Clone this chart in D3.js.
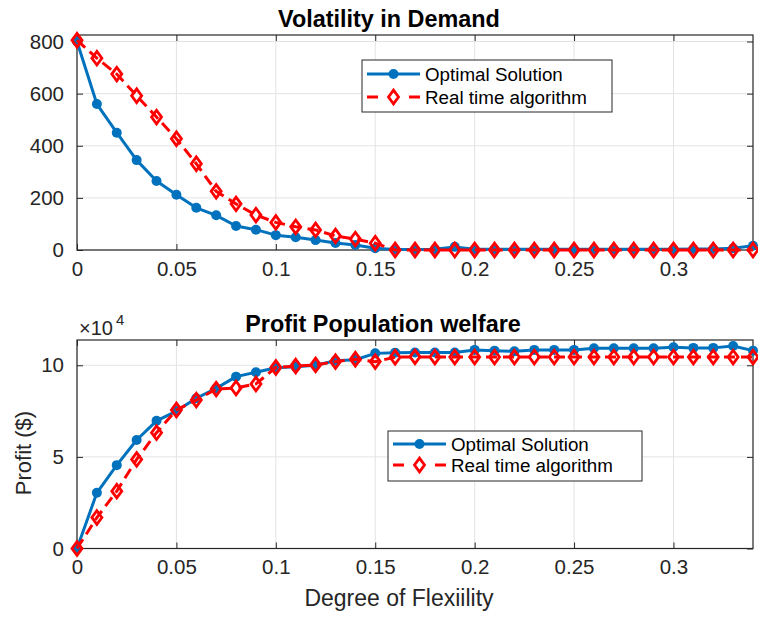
<!DOCTYPE html>
<html>
<head>
<meta charset="utf-8">
<script src="https://cdn.jsdelivr.net/npm/d3@7"></script>
<style>
  html, body { margin: 0; padding: 0; background: #fff; }
  svg { display: block; font-family: "Liberation Sans", Arial, Helvetica, sans-serif; }
</style>
</head>
<body>
<svg id="chart" width="758" height="617"></svg>
<script>
// ---------------- data ----------------
const flexibility = [0,0.01,0.02,0.03,0.04,0.05,0.06,0.07,0.08,0.09,0.10,0.11,0.12,0.13,0.14,0.15,0.16,0.17,0.18,0.19,0.20,0.21,0.22,0.23,0.24,0.25,0.26,0.27,0.28,0.29,0.30,0.31,0.32,0.33,0.34];

const volatilityOptimal = [800,560,450,345,265,212,162,133,92,78,57,49,38,27,19,7,2,2,3,12,3,3,3,3,3,3,3,3,3,3,3,4,4,7,16];
const volatilityRealTime = [805,736,675,592,510,427,331,225,177,134,106,89,77,54,42,26,0,0,0,0,0,0,0,0,0,0,0,0,0,0,0,0,0,0,0];

const profitOptimal = [0,30400,45500,59200,69700,75000,82000,87400,93800,96200,98700,99200,100000,102500,103000,106500,106900,107000,107000,107000,108400,108000,107600,108400,108400,108400,109300,109300,109300,109300,109800,109500,109500,110500,108000];
const profitRealTime = [0,16900,31300,48600,63200,75600,81000,87000,87600,89800,98800,99600,100200,102000,103300,102000,104400,104600,104500,104500,104500,104500,104500,104500,104500,104500,104500,104500,104500,104500,104500,104500,104500,104500,104500];

const xTicks = [0,0.05,0.1,0.15,0.2,0.25,0.3];
const volatilityTicks = [0,200,400,600,800];
const profitTicks = [0,50000,100000];

const seriesNames = ["Optimal Solution", "Real time algorithm"];
const titles = ["Volatility in Demand", "Profit Population welfare"];
const xLabel = "Degree of Flexiility";
const yLabelBottom = "Profit ($)";

// ---------------- style ----------------
const BLUE = "#0072BD", RED = "#FF0000", AXIS = "#262626", GRID = "#e3e3e3";
const svg = d3.select("#chart");

function diamondPath(cx, cy) {
  const w = 5, h = 6.8;
  return `M${cx},${cy-h}L${cx+w},${cy}L${cx},${cy+h}L${cx-w},${cy}Z`;
}

function panel(opts) {
  const {left, right, top, bottom, yDomain, yTicks, yFmt, blue, red, title, titleX, titleY, legend} = opts;
  const x = d3.scaleLinear().domain([0, 0.34]).range([left, right]);
  const y = d3.scaleLinear().domain(yDomain).range([bottom, top]);
  const g = svg.append("g");

  // grid
  g.append("g").selectAll("line").data(xTicks).join("line")
    .attr("x1", d => x(d)).attr("x2", d => x(d)).attr("y1", top).attr("y2", bottom)
    .attr("stroke", GRID).attr("stroke-width", 1);
  g.append("g").selectAll("line").data(yTicks).join("line")
    .attr("x1", left).attr("x2", right).attr("y1", d => y(d)).attr("y2", d => y(d))
    .attr("stroke", GRID).attr("stroke-width", 1);

  // axes (ticks inward)
  const tl = 6;
  const xb = g.append("g").attr("transform", `translate(0,${bottom})`)
    .call(d3.axisBottom(x).tickValues(xTicks).tickSizeInner(-tl).tickSizeOuter(0).tickPadding(11).tickFormat(d => d3.format("")(+d.toFixed(2))));
  const xt = g.append("g").attr("transform", `translate(0,${top})`)
    .call(d3.axisTop(x).tickValues(xTicks).tickSizeInner(-tl).tickSizeOuter(0).tickFormat(""));
  const yl = g.append("g").attr("transform", `translate(${left},0)`)
    .call(d3.axisLeft(y).tickValues(yTicks).tickSizeInner(-tl).tickSizeOuter(0).tickPadding(13).tickFormat(yFmt));
  const yr = g.append("g").attr("transform", `translate(${right},0)`)
    .call(d3.axisRight(y).tickValues(yTicks).tickSizeInner(-tl).tickSizeOuter(0).tickFormat(""));
  [xb, xt, yl, yr].forEach(a => {
    a.selectAll("path.domain").remove();
    a.selectAll("line").attr("stroke", AXIS).attr("stroke-width", 1);
    a.selectAll("text").attr("fill", AXIS).style("font-size", "20.5px");
  });
  xb.selectAll("text").attr("dy", "0.71em");
  // box
  g.append("rect").attr("x", left).attr("y", top).attr("width", right-left).attr("height", bottom-top)
    .attr("fill", "none").attr("stroke", AXIS).attr("stroke-width", 1.2);

  // lines
  const clip = "clip" + top;
  svg.append("clipPath").attr("id", clip).append("rect")
    .attr("x", left-12).attr("y", top-12).attr("width", right-left+24).attr("height", bottom-top+24);
  const pg = g.append("g").attr("clip-path", `url(#${clip})`);
  const line = d3.line().x((d,i) => x(flexibility[i])).y(d => y(d));
  pg.append("path").datum(blue).attr("d", line).attr("fill", "none")
    .attr("stroke", BLUE).attr("stroke-width", 3).attr("stroke-linejoin", "round");
  pg.append("g").selectAll("circle").data(blue).join("circle")
    .attr("cx", (d,i) => x(flexibility[i])).attr("cy", d => y(d)).attr("r", 5).attr("fill", BLUE);
  pg.append("path").datum(red).attr("d", line).attr("fill", "none")
    .attr("stroke", RED).attr("stroke-width", 3).attr("stroke-dasharray", "11,6");
  pg.append("g").selectAll("path").data(red).join("path")
    .attr("d", (d,i) => diamondPath(x(flexibility[i]), y(d)))
    .attr("fill", "none").attr("stroke", RED).attr("stroke-width", 2.8).attr("stroke-linejoin", "miter");

  // title
  svg.append("text").attr("x", titleX).attr("y", titleY).attr("text-anchor", "middle")
    .style("font-size", "23.4px").style("font-weight", "bold").attr("fill", "#000").text(title);

  // legend
  const L = legend;
  svg.append("rect").attr("x", L.x).attr("y", L.y).attr("width", L.w).attr("height", L.h)
    .attr("fill", "#fff").attr("stroke", AXIS).attr("stroke-width", 1);
  const r1 = L.y + L.row1, r2 = L.y + L.row2;
  const lx1 = L.x + 5, lx2 = L.x + 58, lc = (lx1 + lx2) / 2;
  svg.append("line").attr("x1", lx1).attr("x2", lx2).attr("y1", r1).attr("y2", r1)
    .attr("stroke", BLUE).attr("stroke-width", 3);
  svg.append("circle").attr("cx", lc).attr("cy", r1).attr("r", 5).attr("fill", BLUE);
  svg.append("line").attr("x1", lx1).attr("x2", lx2).attr("y1", r2).attr("y2", r2)
    .attr("stroke", RED).attr("stroke-width", 3).attr("stroke-dasharray", "11,31");
  svg.append("path").attr("d", diamondPath(lc, r2)).attr("fill", "none")
    .attr("stroke", RED).attr("stroke-width", 2.8);
  svg.append("text").attr("x", L.x + 63).attr("y", r1).attr("dy", "0.35em")
    .style("font-size", "18.8px").attr("fill", "#000").text(seriesNames[0]);
  svg.append("text").attr("x", L.x + 63).attr("y", r2).attr("dy", "0.35em")
    .style("font-size", "18.8px").attr("fill", "#000").text(seriesNames[1]);
  return {x, y};
}

panel({
  left: 77, right: 753, top: 35, bottom: 250,
  yDomain: [0, 825], yTicks: volatilityTicks, yFmt: d => d,
  blue: volatilityOptimal, red: volatilityRealTime,
  title: titles[0], titleX: 389, titleY: 26.5,
  legend: {x: 362, y: 60, w: 250, h: 52, row1: 14, row2: 37}
});

panel({
  left: 77, right: 753, top: 340, bottom: 548.5,
  yDomain: [0, 113800], yTicks: profitTicks, yFmt: d => d / 10000,
  blue: profitOptimal, red: profitRealTime,
  title: titles[1], titleX: 383, titleY: 331.5,
  legend: {x: 388, y: 431, w: 254, h: 50, row1: 13, row2: 34}
});

// exponent label
const ex = svg.append("text").attr("x", 79).attr("y", 335).attr("fill", AXIS).style("font-size", "20px");
ex.append("tspan").text("\u00d710");
ex.append("tspan").attr("dx", 3).attr("dy", -10).style("font-size", "15px").text("4");

// axis labels
svg.append("text").attr("x", 399).attr("y", 606).attr("text-anchor", "middle")
  .style("font-size", "23px").attr("fill", AXIS).text(xLabel);
svg.append("text").attr("transform", "translate(31,453) rotate(-90)").attr("text-anchor", "middle")
  .style("font-size", "22px").attr("fill", AXIS).text(yLabelBottom);
</script>
</body>
</html>
